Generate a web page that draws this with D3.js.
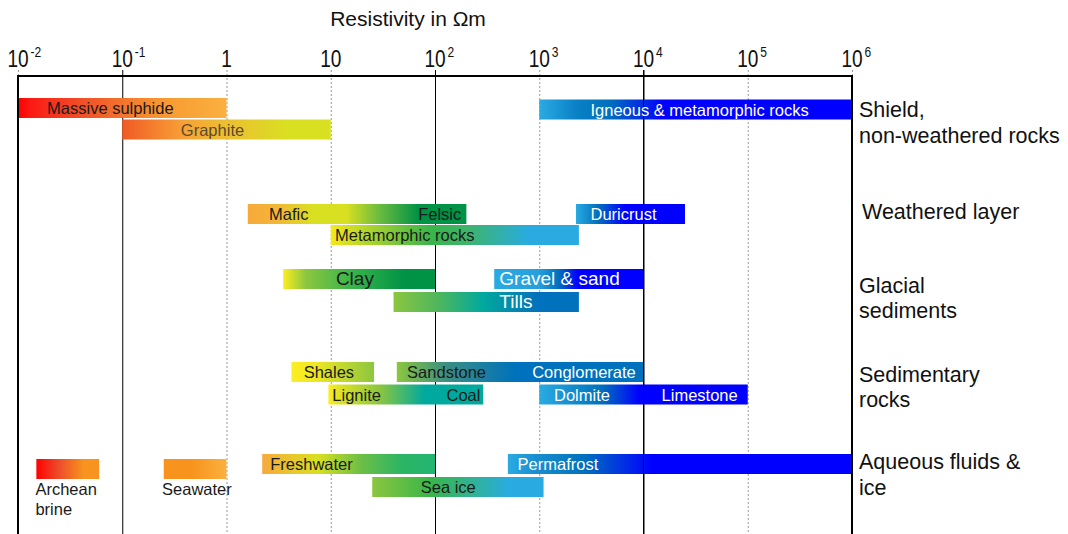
<!DOCTYPE html>
<html>
<head>
<meta charset="utf-8">
<script src="https://cdn.jsdelivr.net/npm/d3@7"></script>
<style>
  body { margin: 0; background: #fff; }
  svg text { font-family: "Liberation Sans", Arial, sans-serif; }
</style>
</head>
<body>
<div id="chart"></div>
<script>
// data
var decades = [1e-2, 1e-1, 1, 10, 1e2, 1e3, 1e4, 1e5, 1e6];
var tickBase = ['10', '10', '1', '10', '10', '10', '10', '10', '10'];
var tickExp = ['-2', '-1', '', '', '2', '3', '4', '5', '6'];
var solidTicks = [1e-1, 1e2, 1e4];
var frontTicks = [1e4];

var barNames = ['Massive sulphide', 'Graphite', 'Igneous & metamorphic rocks', 'Mafic-Felsic',
    'Metamorphic rocks', 'Duricrust', 'Clay', 'Gravel & sand', 'Tills', 'Shales',
    'Sandstone-Conglomerate', 'Lignite-Coal', 'Dolmite-Limestone', 'Archean brine',
    'Seawater', 'Freshwater', 'Permafrost', 'Sea ice'];
var barLow  = [0.01, 0.1, 1000, 1.6, 10, 2250, 3.5, 370, 40, 4.2, 43, 9.5, 1000, 0.015, 0.25, 2.2, 500, 25];
var barHigh = [1, 10, 1e6, 200, 2400, 25000, 100, 1e4, 2400, 26, 1e4, 290, 1e5, 0.06, 1, 100, 1e6, 1100];
var barLane = [0, 1, 11, 2, 3, 2, 4, 4, 5, 6, 6, 7, 7, 9, 9, 8, 8, 10];

var labelText = ['Massive sulphide', 'Graphite', 'Igneous & metamorphic rocks', 'Mafic', 'Felsic',
    'Metamorphic rocks', 'Duricrust', 'Clay', 'Gravel & sand', 'Tills', 'Shales', 'Sandstone',
    'Conglomerate', 'Lignite', 'Coal', 'Dolmite', 'Limestone', 'Freshwater', 'Permafrost', 'Sea ice'];
var labelBar = [0, 1, 2, 3, 3, 4, 5, 6, 7, 8, 9, 10, 10, 11, 11, 12, 12, 15, 16, 17];
var labelAt = [0.019, 0.365, 3100, 2.56, 69, 11, 3100, 11.2, 414, 414, 5.5, 54, 855, 10.35, 129, 1385, 14900, 2.63, 620, 73];

var belowText = [['Archean', 'brine'], ['Seawater']];
var belowBar = [13, 14];
var belowAt = [0.0147, 0.241];

var groupLines = [['Shield,', 'non-weathered rocks'], ['Weathered layer'], ['Glacial', 'sediments'],
    ['Sedimentary', 'rocks'], ['Aqueous fluids &', 'ice']];

// layout / styles
var laneTop = [98, 119.5, 204, 225, 269, 292, 362, 384.5, 454, 459, 477, 99.5];
var barH = 20;
var groupBaseline = [[116.7, 143], [219.3], [292.7, 318.3], [381.7, 406.7], [469.3, 495]];
var groupX = [859, 862, 859, 859, 859];

var white = ['Igneous & metamorphic rocks', 'Duricrust', 'Gravel & sand', 'Tills', 'Conglomerate',
    'Dolmite', 'Limestone', 'Permafrost'];
var big = ['Clay', 'Gravel & sand', 'Tills'];

var fills = [
    [[0, '#ff0000'], [0.06, '#fb1a14'], [0.3, '#f04e27'], [0.7, '#f79a32'], [1, '#fbb040']],
    [[0, '#f15a24'], [0.3, '#f7a237'], [0.5, '#ecbf31'], [0.8, '#d9e021'], [1, '#d9e021']],
    [[0, '#29abe2'], [0.12, '#0a80c6'], [0.22, '#0071bc'], [0.4, '#0000ff'], [1, '#0000ff']],
    [[0, '#f7a93b'], [0.12, '#f4b436'], [0.3, '#d9e021'], [0.45, '#d9e021'], [0.6, '#6cbc40'], [0.78, '#009245'], [1, '#009245']],
    [[0, '#f5ea14'], [0.06, '#d9e021'], [0.4, '#39b54a'], [0.55, '#3db46a'], [0.8, '#29abe2'], [1, '#29abe2']],
    [[0, '#29abe2'], [0.2, '#0071bc'], [0.45, '#0000ff'], [1, '#0000ff']],
    [[0, '#fcee21'], [0.15, '#8cc63f'], [0.45, '#39b54a'], [0.8, '#009245'], [1, '#009245']],
    [[0, '#29abe2'], [0.3, '#279fdc'], [0.43, '#0071bc'], [0.56, '#0000ff'], [1, '#0000ff']],
    [[0, '#8cc63f'], [0.25, '#4cb65e'], [0.48, '#00a99d'], [0.78, '#0071bc'], [1, '#0071bc']],
    [[0, '#fcee21'], [0.3, '#eee723'], [1, '#8cc63f']],
    [[0, '#8cc63f'], [0.2, '#3a8f82'], [0.48, '#0071bc'], [1, '#0071bc']],
    [[0, '#fcee21'], [0.06, '#e3e423'], [0.33, '#8cc63f'], [0.62, '#00a99d'], [1, '#00a99d']],
    [[0, '#29abe2'], [0.3, '#0071bc'], [0.48, '#0000ff'], [1, '#0000ff']],
    [[0, '#ff0000'], [0.35, '#ed4b2a'], [0.75, '#f7931e'], [1, '#f7931e']],
    [[0, '#f7931e'], [0.45, '#f7941d'], [1, '#fbb040']],
    [[0, '#f7a93b'], [0.32, '#d9e021'], [0.57, '#6cbf45'], [0.8, '#2cb563'], [1, '#22b573']],
    [[0, '#29abe2'], [0.08, '#1a8fd0'], [0.22, '#0071bc'], [0.42, '#0000ff'], [1, '#0000ff']],
    [[0, '#8cc63f'], [0.34, '#39b54a'], [0.6, '#2fb29a'], [0.8, '#29abe2'], [1, '#29abe2']]
];

var svgWidth = 1068;
var svgHeight = 534;

var svg = d3.select('#chart')
    .append('svg')
    .attr('width', svgWidth)
    .attr('height', svgHeight);

var defs = svg.append('defs');

// log scale across decades
var x = d3.scaleLog()
    .domain([1e-2, 1e6])
    .range([18, 852]);

var axisY = 70;
var bottom = 534;

// title
svg.append('text')
    .attr('x', 408)
    .attr('y', 26)
    .attr('text-anchor', 'middle')
    .attr('font-size', 21)
    .attr('fill', '#111')
    .text('Resistivity in Ωm');

// grid lines via axis
var gridAxis = d3.axisTop(x)
    .tickValues(decades)
    .tickSize(-(bottom - axisY))
    .tickFormat('');

var grid = svg.append('g')
    .attr('transform', `translate(0,${axisY})`)
    .call(gridAxis);
grid.select('.domain').remove();
grid.selectAll('.tick line')
    .attr('stroke', d => solidTicks.includes(d) ? '#000' : '#9a9a9a')
    .attr('stroke-width', 1)
    .attr('stroke-dasharray', d => solidTicks.includes(d) ? null : '2,2');

// tick labels with superscripts
var labels = svg.append('g');
decades.forEach(function(d, i) {
    var g = labels.append('g')
        .attr('transform', `translate(${x(d)},${axisY - 3.3}) scale(0.83,1)`);
    g.append('text')
        .attr('text-anchor', 'middle')
        .attr('font-size', 23)
        .attr('fill', '#111')
        .text(tickBase[i]);
    if (tickExp[i]) {
        g.append('text')
            .attr('x', 15)
            .attr('y', -9.5)
            .attr('font-size', 14.5)
            .attr('fill', '#111')
            .text(tickExp[i]);
    }
});

// bars
barNames.forEach(function(name, i) {
    var grad = defs.append('linearGradient')
        .attr('id', 'grad' + i)
        .attr('x1', 0).attr('x2', 1).attr('y1', 0).attr('y2', 0);
    fills[i].forEach(function(s) {
        grad.append('stop').attr('offset', s[0]).attr('stop-color', s[1]);
    });
});

svg.append('g').selectAll('rect')
    .data(barNames)
    .enter()
    .append('rect')
        .attr('x', (d, i) => x(barLow[i]))
        .attr('y', (d, i) => laneTop[barLane[i]])
        .attr('width', (d, i) => x(barHigh[i]) - x(barLow[i]))
        .attr('height', barH)
        .attr('fill', (d, i) => `url(#grad${i})`);

// lines drawn over the bars
svg.append('g').selectAll('line')
    .data(frontTicks)
    .enter()
    .append('line')
        .attr('x1', d => x(d)).attr('x2', d => x(d))
        .attr('y1', axisY).attr('y2', bottom)
        .attr('stroke', '#000')
        .attr('stroke-width', 1);

// labels inside bars
svg.append('g').selectAll('text')
    .data(labelText)
    .enter()
    .append('text')
        .attr('x', (d, i) => x(labelAt[i]))
        .attr('y', (d, i) => laneTop[barLane[labelBar[i]]] + 16.3)
        .attr('font-size', d => big.includes(d) ? 19 : 16.5)
        .attr('fill', d => d === 'Graphite' ? '#5e4a2c' : (white.includes(d) ? '#fff' : '#1a1a1a'))
        .text(d => d);

// labels under small bars
belowText.forEach(function(lines, i) {
    lines.forEach(function(t, j) {
        svg.append('text')
            .attr('x', x(belowAt[i]))
            .attr('y', laneTop[barLane[belowBar[i]]] + 36 + j * 20)
            .attr('font-size', 16.5)
            .attr('fill', '#1a1a1a')
            .text(t);
    });
});

// frame
svg.append('path')
    .attr('d', `M${x(1e-2)},${bottom} V76 H${x(1e6)} V${bottom}`)
    .attr('fill', 'none')
    .attr('stroke', '#000')
    .attr('stroke-width', 2);

// group labels on the right
groupLines.forEach(function(lines, i) {
    lines.forEach(function(t, j) {
        svg.append('text')
            .attr('x', groupX[i])
            .attr('y', groupBaseline[i][j])
            .attr('font-size', 21.5)
            .attr('fill', '#111')
            .text(t);
    });
});
</script>
</body>
</html>
